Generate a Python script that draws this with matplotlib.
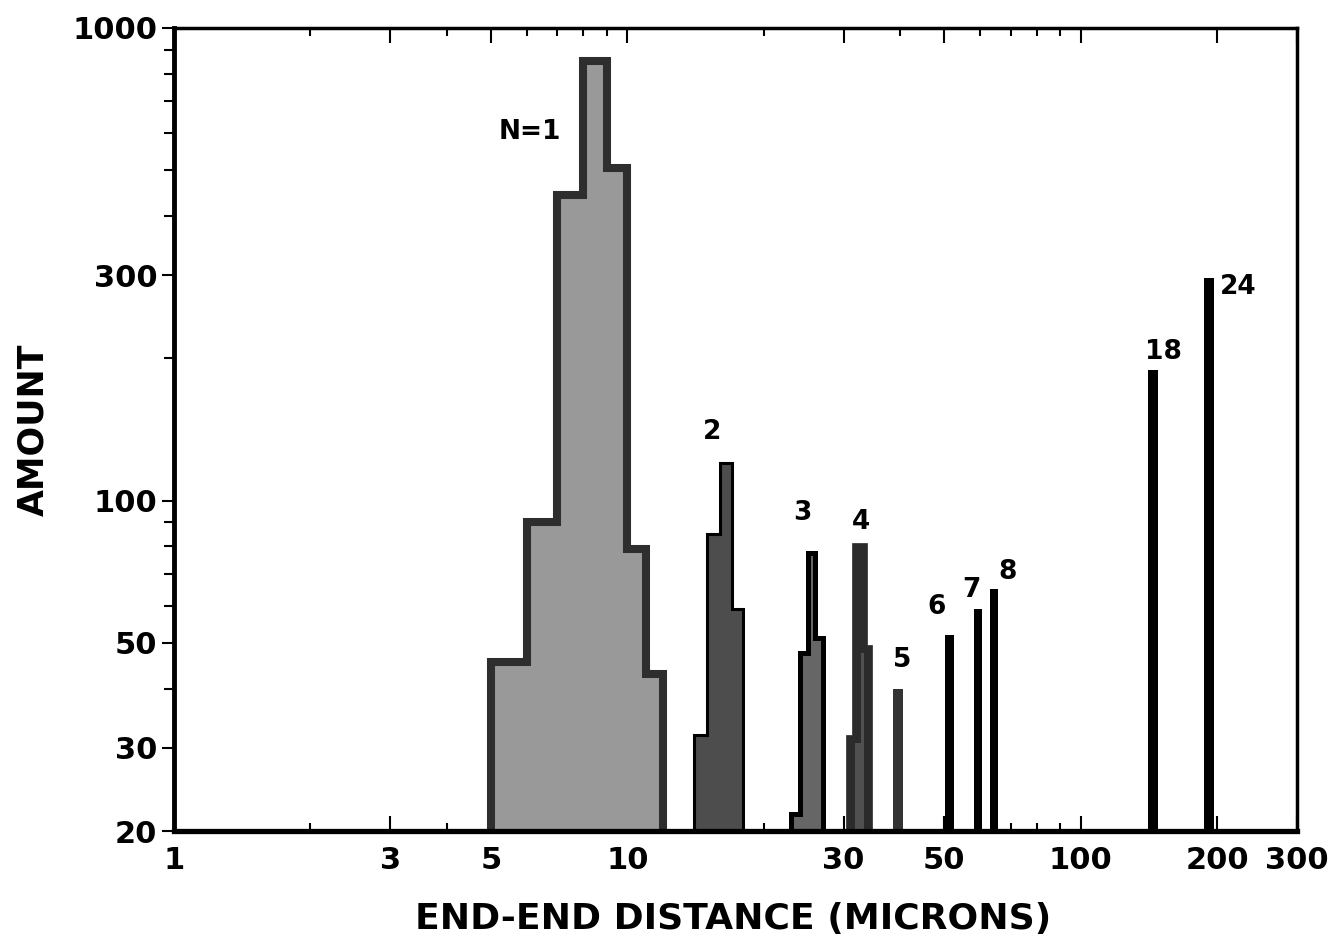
import numpy as np
from matplotlib import pyplot as plt
from matplotlib.ticker import FixedLocator, NullFormatter

# histogram data (micron bin edges, amount per bin)
n1_edges = [5, 6, 7, 8, 9, 10, 11, 12]
n1_vals = [45.5, 90, 443, 852, 506, 79, 43]
n2_edges = [14, 15, 16, 17, 18]
n2_vals = [32, 85, 120, 59]
n3_edges = [23, 24, 25, 26, 27]
n3_vals = [21.7, 47.6, 77.5, 51.3]
n4_edges = [30.4, 31.3, 33.7, 34.7]
n4_vals = [31.9, 81.5, 49.5]
n4_inner_edges = [31.7, 32.7, 33.2]
n4_inner_vals = [30.7, 47.6]

# single narrow bars: (left, right, amount)
n5_bar = (38.5, 40.5, 40)
n6_bar = (50.2, 52.5, 52)
n6_stub = (49.6, 50.2, 21.4)
n7_bar = (58.3, 60.7, 59)
n8_bar = (63.1, 65.7, 65)
n18_bar = (140.6, 147.9, 189)
n24_bar = (186.8, 196.6, 296)

labels = ['N=1', '2', '3', '4', '5', '6', '7', '8', '18', '24']
label_x = [6.1, 15.4, 24.3, 32.8, 40.3, 48, 57.5, 69, 152, 222]
label_y = [602, 140, 94, 90, 46, 59.6, 64.8, 70.6, 206, 283]

x_major = [1, 3, 5, 10, 30, 50, 100, 200, 300]
x_minor = [2, 4, 6, 7, 8, 9, 20, 40, 60, 70, 80, 90]
y_major = [20, 30, 50, 100, 300, 1000]
y_minor = [40, 60, 70, 80, 90, 200, 400, 500, 600, 700, 800, 900]

BASE = 20

fig = plt.figure(figsize=(13.31, 9.42), dpi=100)
ax = fig.add_axes([0.1307, 0.1178, 0.8438, 0.8525])
ax.set_xscale('log')
ax.set_yscale('log')
ax.set_xlim(1, 300)
ax.set_ylim(20, 1000)

ax.stairs(n1_vals, n1_edges, baseline=BASE, fill=True, facecolor='#999999',
          edgecolor='#2e2e2e', linewidth=5.8, zorder=2)
ax.stairs(n2_vals, n2_edges, baseline=BASE, fill=True, facecolor='#4d4d4d',
          edgecolor='black', linewidth=2.2, zorder=2)
ax.stairs(n3_vals, n3_edges, baseline=BASE, fill=True, facecolor='#666666',
          edgecolor='black', linewidth=3.6, zorder=2)
ax.stairs(n4_vals, n4_edges, baseline=BASE, fill=True, facecolor='#2b2b2b',
          edgecolor='#2b2b2b', linewidth=0.5, zorder=2)
ax.stairs(n4_inner_vals, n4_inner_edges, baseline=BASE, fill=True,
          facecolor='#505050', linewidth=0, zorder=3)

for bar, col in [(n5_bar, '#333333'), (n6_bar, 'black'), (n6_stub, 'black'),
                 (n7_bar, 'black'), (n8_bar, 'black'), (n18_bar, 'black'),
                 (n24_bar, 'black')]:
    ax.stairs([bar[2]], [bar[0], bar[1]], baseline=BASE, fill=True,
              color=col, linewidth=0, zorder=2)

for s, lx, ly in zip(labels, label_x, label_y):
    ax.text(lx, ly, s, ha='center', va='center', fontsize=19,
            fontweight='bold', family='DejaVu Sans')

# ticks
ax.xaxis.set_major_locator(FixedLocator(x_major))
ax.xaxis.set_minor_locator(FixedLocator(x_minor))
ax.xaxis.set_minor_formatter(NullFormatter())
ax.set_xticklabels([str(v) for v in x_major])
ax.yaxis.set_major_locator(FixedLocator(y_major))
ax.yaxis.set_minor_locator(FixedLocator(y_minor))
ax.yaxis.set_minor_formatter(NullFormatter())
ax.set_yticklabels([str(v) for v in y_major])

ax.tick_params(axis='x', which='both', direction='in', top=True, bottom=True,
               width=1.5, pad=11)
ax.tick_params(axis='x', which='major', length=11)
ax.tick_params(axis='x', which='minor', length=6)
ax.tick_params(axis='y', which='both', direction='out', left=True, right=False,
               width=1.5, pad=3)
ax.tick_params(axis='y', which='major', length=9)
ax.tick_params(axis='y', which='minor', length=7)

for lab in ax.get_xticklabels():
    lab.set_family('DejaVu Sans')
    lab.set_fontweight('bold')
    lab.set_fontsize(22)
for lab in ax.get_yticklabels():
    lab.set_family('DejaVu Sans')
    lab.set_fontweight('bold')
    lab.set_fontsize(22)

for side in ['top', 'right']:
    ax.spines[side].set_linewidth(2.5)
ax.spines['left'].set_linewidth(3.5)
ax.spines['bottom'].set_linewidth(3.8)
for sp in ax.spines.values():
    sp.set_zorder(5)

ax.set_xlabel('END-END DISTANCE (MICRONS)', family='DejaVu Sans',
              fontweight='bold', fontsize=26)
ax.xaxis.set_label_coords(0.498, -0.088)
ax.set_ylabel('AMOUNT', family='DejaVu Sans', fontweight='bold', fontsize=25)
ax.yaxis.set_label_coords(-0.11, 0.5)

fig.savefig('out.png', dpi=100)
